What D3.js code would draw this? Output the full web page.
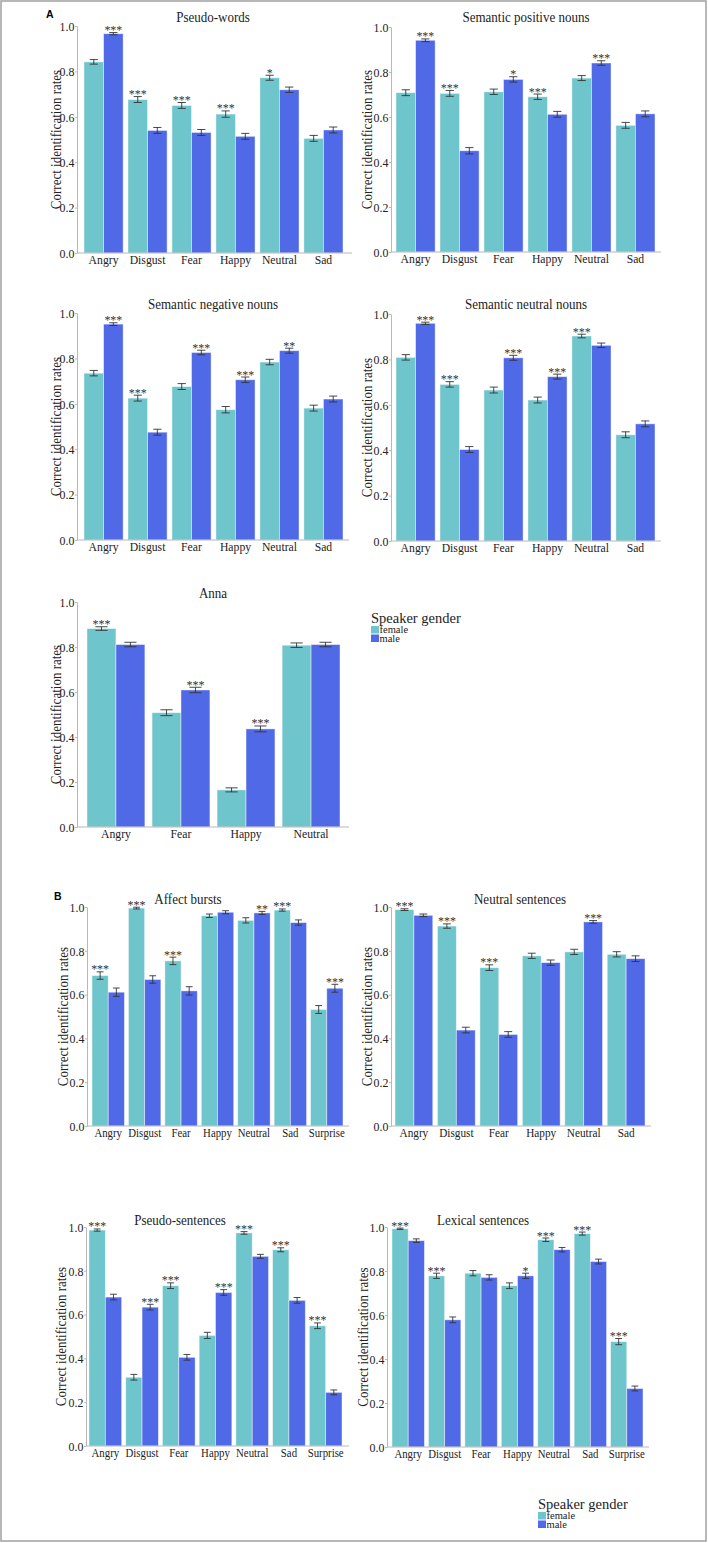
<!DOCTYPE html>
<html>
<head>
<meta charset="UTF-8">
<style>
  body { margin: 0; background: #fff; }
  svg { display: block; }
</style>
</head>
<body>
<svg></svg>
<script src="https://d3js.org/d3.v7.min.js"></script>
<script>

// ---- data ----
const emoSix = ["Angry", "Disgust", "Fear", "Happy", "Neutral", "Sad"];
const emoSeven = ["Angry", "Disgust", "Fear", "Happy", "Neutral", "Sad", "Surprise"];
const emoAnna = ["Angry", "Fear", "Happy", "Neutral"];
const yTicks = [0, 0.2, 0.4, 0.6, 0.8, 1.0];

// Pseudo-words
const pwFemale = [0.842, 0.676, 0.650, 0.612, 0.772, 0.505];
const pwMale   = [0.966, 0.540, 0.531, 0.514, 0.719, 0.542];
const pwFemaleErr = [0.010, 0.013, 0.013, 0.014, 0.011, 0.013];
const pwMaleErr   = [0.005, 0.013, 0.013, 0.013, 0.012, 0.013];
const pwStars  = ["***", "***", "***", "***", "*", ""];
const pwStarOn = ["m", "f", "f", "f", "f", ""];

// Semantic positive nouns
const spFemale = [0.708, 0.705, 0.712, 0.690, 0.773, 0.563];
const spMale   = [0.941, 0.450, 0.767, 0.612, 0.840, 0.614];
const spFemaleErr = [0.013, 0.013, 0.012, 0.012, 0.011, 0.013];
const spMaleErr   = [0.006, 0.014, 0.012, 0.013, 0.010, 0.013];
const spStars  = ["***", "***", "*", "***", "***", ""];
const spStarOn = ["m", "f", "m", "f", "m", ""];

// Semantic negative nouns
const snFemale = [0.735, 0.625, 0.676, 0.574, 0.784, 0.581];
const snMale   = [0.951, 0.475, 0.826, 0.706, 0.834, 0.621];
const snFemaleErr = [0.012, 0.013, 0.013, 0.014, 0.012, 0.013];
const snMaleErr   = [0.006, 0.013, 0.010, 0.012, 0.011, 0.013];
const snStars  = ["***", "***", "***", "***", "**", ""];
const snStarOn = ["m", "f", "m", "m", "m", ""];

// Semantic neutral nouns
const snnFemale = [0.809, 0.690, 0.665, 0.621, 0.903, 0.468];
const snnMale   = [0.959, 0.403, 0.807, 0.724, 0.862, 0.516];
const snnFemaleErr = [0.012, 0.012, 0.013, 0.013, 0.008, 0.013];
const snnMaleErr   = [0.005, 0.013, 0.011, 0.011, 0.010, 0.013];
const snnStars  = ["***", "***", "***", "***", "***", ""];
const snnStarOn = ["m", "f", "m", "m", "f", ""];

// Anna
const annaFemale = [0.882, 0.508, 0.165, 0.808];
const annaMale   = [0.811, 0.609, 0.436, 0.811];
const annaFemaleErr = [0.008, 0.013, 0.009, 0.010];
const annaMaleErr   = [0.010, 0.012, 0.013, 0.010];
const annaStars  = ["***", "***", "***", ""];
const annaStarOn = ["f", "m", "m", ""];

// Affect bursts
const abFemale = [0.687, 0.995, 0.754, 0.960, 0.939, 0.986, 0.532];
const abMale   = [0.611, 0.669, 0.617, 0.976, 0.973, 0.929, 0.629];
const abFemaleErr = [0.017, 0.004, 0.017, 0.008, 0.012, 0.005, 0.018];
const abMaleErr   = [0.019, 0.017, 0.019, 0.007, 0.007, 0.012, 0.018];
const abStars  = ["***", "***", "***", "", "**", "***", "***"];
const abStarOn = ["f", "f", "f", "", "m", "f", "m"];

// Neutral sentences
const nsFemale = [0.988, 0.913, 0.723, 0.777, 0.795, 0.784];
const nsMale   = [0.962, 0.438, 0.418, 0.746, 0.932, 0.764];
const nsFemaleErr = [0.004, 0.010, 0.013, 0.012, 0.012, 0.012];
const nsMaleErr   = [0.006, 0.013, 0.013, 0.012, 0.006, 0.013];
const nsStars  = ["***", "***", "***", "", "***", ""];
const nsStarOn = ["f", "f", "f", "", "m", ""];

// Pseudo-sentences
const psFemale = [0.986, 0.314, 0.732, 0.505, 0.973, 0.896, 0.549];
const psMale   = [0.680, 0.634, 0.405, 0.701, 0.866, 0.665, 0.245];
const psFemaleErr = [0.005, 0.013, 0.013, 0.014, 0.006, 0.009, 0.013];
const psMaleErr   = [0.013, 0.013, 0.013, 0.013, 0.009, 0.013, 0.011];
const psStars  = ["***", "***", "***", "***", "***", "***", "***"];
const psStarOn = ["f", "m", "f", "m", "f", "f", "f"];

// Lexical sentences
const lsFemale = [0.992, 0.778, 0.790, 0.733, 0.942, 0.970, 0.479];
const lsMale   = [0.938, 0.578, 0.771, 0.778, 0.897, 0.843, 0.266];
const lsFemaleErr = [0.003, 0.012, 0.012, 0.013, 0.008, 0.007, 0.014];
const lsMaleErr   = [0.008, 0.013, 0.012, 0.012, 0.010, 0.011, 0.011];
const lsStars  = ["***", "***", "", "*", "***", "***", "***"];
const lsStarOn = ["f", "f", "", "m", "f", "f", "f"];

const genders = ["female", "male"];

// ---- styles / layout ----
const colors = { female: "#6fc5cc", male: "#5069e6" };
const serif = "'Liberation Serif', 'Times New Roman', serif";
const width = 708, height = 1543;

let svg = d3.select("svg")
    .attr("width", width)
    .attr("height", height)
    .attr("viewBox", "0 0 " + width + " " + height);

// outer frame
svg.append("rect")
    .attr("x", 1).attr("y", 1)
    .attr("width", 705).attr("height", 1540)
    .attr("fill", "none")
    .attr("stroke", "#a0a0a0")
    .attr("stroke-width", 1.5);

// text helper, squeezed a bit horizontally like the original figure
function label(g, x, y, str, size, sx, anchor) {
    return g.append("text")
        .attr("transform", `translate(${x},${y}) scale(${sx},1)`)
        .attr("text-anchor", anchor || "middle")
        .style("font-family", serif)
        .style("font-size", size + "px")
        .style("fill", "#222")
        .text(str);
}

const panels = [
    { title: "Pseudo-words", cats: emoSix, f: pwFemale, m: pwMale, fe: pwFemaleErr, me: pwMaleErr, stars: pwStars, on: pwStarOn,
      ax: 77, axEnd: 352, b0: 84, b1: 343, yTop: 26, yBot: 253, tx: 213, ty: 22, lx: 61, cat: 13 },
    { title: "Semantic positive nouns", cats: emoSix, f: spFemale, m: spMale, fe: spFemaleErr, me: spMaleErr, stars: spStars, on: spStarOn,
      ax: 391, axEnd: 661, b0: 396, b1: 655, yTop: 27, yBot: 252, tx: 526, ty: 22, lx: 372, cat: 13 },
    { title: "Semantic negative nouns", cats: emoSix, f: snFemale, m: snMale, fe: snFemaleErr, me: snMaleErr, stars: snStars, on: snStarOn,
      ax: 77, axEnd: 349, b0: 84, b1: 343, yTop: 313, yBot: 540, tx: 213, ty: 309, lx: 61, cat: 13 },
    { title: "Semantic neutral nouns", cats: emoSix, f: snnFemale, m: snnMale, fe: snnFemaleErr, me: snnMaleErr, stars: snnStars, on: snnStarOn,
      ax: 391, axEnd: 661, b0: 396, b1: 655, yTop: 314, yBot: 541, tx: 526, ty: 309, lx: 372, cat: 13 },
    { title: "Anna", cats: emoAnna, f: annaFemale, m: annaMale, fe: annaFemaleErr, me: annaMaleErr, stars: annaStars, on: annaStarOn,
      ax: 77, axEnd: 349, b0: 87, b1: 340, yTop: 602, yBot: 827, tx: 213, ty: 598, lx: 61, cat: 13 },
    { title: "Affect bursts", cats: emoSeven, f: abFemale, m: abMale, fe: abFemaleErr, me: abMaleErr, stars: abStars, on: abStarOn,
      ax: 87, axEnd: 349, b0: 92, b1: 343, yTop: 907, yBot: 1126, tx: 188, ty: 904, lx: 68, cat: 12 },
    { title: "Neutral sentences", cats: emoSix, f: nsFemale, m: nsMale, fe: nsFemaleErr, me: nsMaleErr, stars: nsStars, on: nsStarOn,
      ax: 391, axEnd: 651, b0: 395, b1: 645, yTop: 907, yBot: 1126, tx: 520, ty: 904, lx: 372, cat: 12.5 },
    { title: "Pseudo-sentences", cats: emoSeven, f: psFemale, m: psMale, fe: psFemaleErr, me: psMaleErr, stars: psStars, on: psStarOn,
      ax: 86, axEnd: 349, b0: 89, b1: 342, yTop: 1227, yBot: 1446, tx: 180, ty: 1225, lx: 66, cat: 12 },
    { title: "Lexical sentences", cats: emoSeven, f: lsFemale, m: lsMale, fe: lsFemaleErr, me: lsMaleErr, stars: lsStars, on: lsStarOn,
      ax: 387, axEnd: 649, b0: 392, b1: 643, yTop: 1227, yBot: 1447, tx: 483, ty: 1225, lx: 368, cat: 12 }
];

panels.forEach(p => {
    let g = svg.append("g");

    let y = d3.scaleLinear().domain([0, 1]).range([p.yBot, p.yTop]);
    let x = d3.scaleBand().domain(p.cats).range([p.b0, p.b1]).paddingInner(0.11).paddingOuter(0);
    let xs = d3.scaleBand().domain(genders).range([0, x.bandwidth()]).padding(0);

    let rows = p.cats.map((c, i) => ({
        cat: c,
        vals: [
            { g: "female", v: p.f[i], e: p.fe[i], star: p.on[i] === "f" ? p.stars[i] : "" },
            { g: "male", v: p.m[i], e: p.me[i], star: p.on[i] === "m" ? p.stars[i] : "" }
        ]
    }));

    // bars
    let grp = g.selectAll(".grp")
        .data(rows)
        .enter()
        .append("g")
        .attr("transform", d => `translate(${x(d.cat)},0)`);

    grp.selectAll("rect")
        .data(d => d.vals)
        .enter()
        .append("rect")
        .attr("x", d => xs(d.g))
        .attr("y", d => y(d.v))
        .attr("width", xs.bandwidth())
        .attr("height", d => y(0) - y(d.v))
        .attr("fill", d => colors[d.g])
        .attr("stroke", "rgba(255,255,255,0.55)")
        .attr("stroke-width", 0.8);

    // error bars
    let cap = xs.bandwidth() * 0.42;
    let eb = grp.selectAll(".eb")
        .data(d => d.vals)
        .enter()
        .append("g")
        .attr("stroke", "#333")
        .attr("stroke-width", 0.9);
    eb.append("line")
        .attr("x1", d => xs(d.g) + xs.bandwidth() / 2)
        .attr("x2", d => xs(d.g) + xs.bandwidth() / 2)
        .attr("y1", d => y(d.v - d.e))
        .attr("y2", d => y(d.v + d.e));
    [-1, 1].forEach(s => {
        eb.append("line")
            .attr("x1", d => xs(d.g) + xs.bandwidth() / 2 - cap / 2)
            .attr("x2", d => xs(d.g) + xs.bandwidth() / 2 + cap / 2)
            .attr("y1", d => y(d.v + s * d.e))
            .attr("y2", d => y(d.v + s * d.e));
    });

    // significance stars
    grp.each(function (d) {
        let gg = d3.select(this);
        d.vals.filter(v => v.star).forEach(v => {
            label(gg, xs(v.g) + xs.bandwidth() / 2, y(v.v + v.e) + 1.5, v.star, 13, 0.92)
                .style("fill", "#333");
        });
    });

    // y axis
    let yAxis = g.append("g")
        .attr("transform", `translate(${p.ax},0)`)
        .call(d3.axisLeft(y).tickValues(yTicks).tickFormat(d3.format(".1f")).tickSize(2).tickSizeOuter(0).tickPadding(1));
    yAxis.select(".domain").attr("stroke", "#b8b8b8");
    yAxis.selectAll(".tick line").attr("stroke", "#b8b8b8");
    yAxis.selectAll(".tick text")
        .attr("transform", "scale(0.88,1)")
        .style("font-family", serif)
        .style("font-size", "13.5px")
        .style("fill", "#222");

    // x axis line
    g.append("line")
        .attr("x1", p.ax).attr("x2", p.axEnd)
        .attr("y1", y(0)).attr("y2", y(0))
        .attr("stroke", "#b8b8b8");

    // category labels
    p.cats.forEach(c => {
        label(g, x(c) + x.bandwidth() / 2, y(0) + 11, c, p.cat, 0.9);
    });

    // title
    label(g, p.tx, p.ty, p.title, 14, 0.93);

    // y label
    g.append("text")
        .attr("transform", `translate(${p.lx},${(p.yTop + p.yBot) / 2}) rotate(-90) scale(0.93,1)`)
        .attr("text-anchor", "middle")
        .style("font-family", serif)
        .style("font-size", "14px")
        .style("fill", "#222")
        .text("Correct identification rates");
});

// panel letters
svg.append("text").attr("x", 46).attr("y", 18).text("A")
    .style("font-family", "'Liberation Sans', Arial, sans-serif").style("font-weight", "bold").style("font-size", "10.5px");
svg.append("text").attr("x", 54).attr("y", 900).text("B")
    .style("font-family", "'Liberation Sans', Arial, sans-serif").style("font-weight", "bold").style("font-size", "10.5px");

// legends
function legend(lx, ly) {
    let g = svg.append("g").attr("transform", `translate(${lx},${ly})`);
    g.append("text").attr("x", 0).attr("y", 0).text("Speaker gender")
        .style("font-family", serif).style("font-size", "14.5px").style("fill", "#222");
    genders.forEach((k, i) => {
        g.append("rect")
            .attr("x", 0).attr("y", 3 + i * 8.5)
            .attr("width", 8).attr("height", 7.5)
            .attr("fill", colors[k]);
        g.append("text").attr("x", 8.5).attr("y", 10 + i * 8.5).text(k)
            .style("font-family", serif).style("font-size", "10.5px").style("fill", "#222");
    });
}
legend(371, 623);
legend(538, 1509);

</script>
</body>
</html>
